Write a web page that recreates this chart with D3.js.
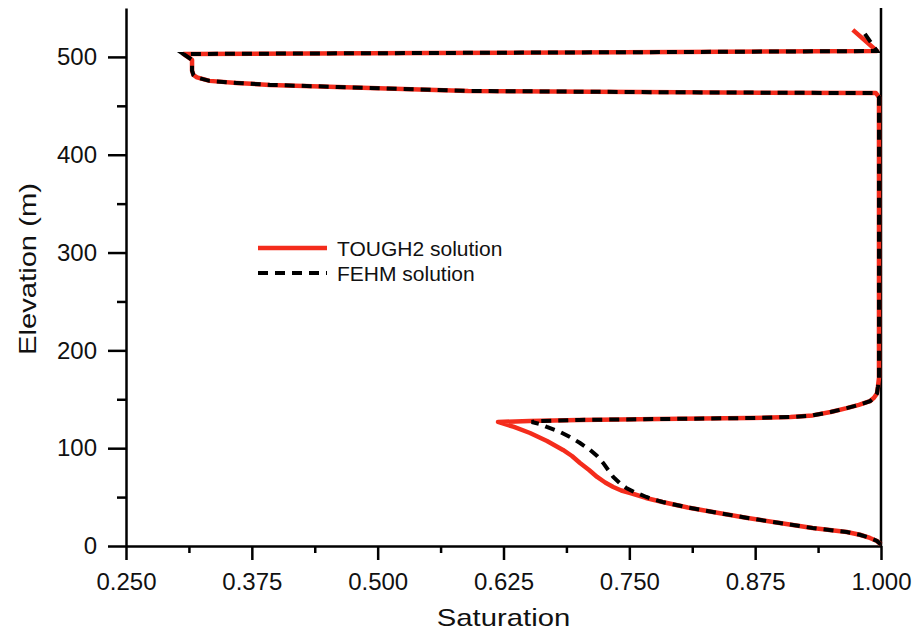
<!DOCTYPE html>
<html>
<head>
<meta charset="utf-8">
<script src="https://cdn.jsdelivr.net/npm/d3@7"></script>
<style>
  body { margin: 0; background: #fff; }
  text { font-family: "Liberation Sans", Arial, sans-serif; fill: #111; }
</style>
</head>
<body>
<div id="chart"></div>
<script>
// DATA (saturation, elevation in m)
// upper part (shared shape): top tip, perched zone near 500 m, unsaturated column
const topSat  = [0.996, 0.80, 0.55, 0.307, 0.3156, 0.3156, 0.317, 0.3205, 0.333, 0.360, 0.393, 0.460, 0.590, 0.800, 0.995, 0.998, 0.998, 0.998, 0.997, 0.996, 0.993, 0.989, 0.978, 0.966, 0.950, 0.932, 0.910, 0.870, 0.800];
const topElev = [506.0, 505.0, 504.0, 503.0, 497.0, 486.0, 481.5, 479.0, 475.5, 473.4, 471.4, 469.3, 465.2, 463.8, 463.0, 459.0, 300.0, 172.0, 163.0, 156.0, 151.5, 148.0, 144.3, 141.0, 137.0, 133.5, 131.8, 130.8, 130.0];

// TOUGH2
const toughHeadSat  = [0.972];
const toughHeadElev = [527.6];
const toughLowSat  = [0.700, 0.651, 0.6195, 0.6354, 0.6513, 0.6682, 0.6841, 0.693, 0.701, 0.710, 0.718, 0.726, 0.734, 0.742, 0.751, 0.7665, 0.783, 0.808, 0.833, 0.866, 0.8995, 0.932, 0.966, 0.979, 0.989, 0.996, 1.000];
const toughLowElev = [128.9, 127.8, 126.8, 121.7, 115.5, 107.4, 98.2, 92.0, 84.9, 77.7, 70.6, 64.9, 60.3, 56.7, 54.2, 49.1, 45.0, 39.4, 34.8, 28.9, 23.5, 18.4, 14.3, 11.5, 8.2, 5.1, 1.5];

// FEHM
const fehmHeadSat  = [0.984];
const fehmHeadElev = [523.5];
const fehmLowSat  = [0.700, 0.656, 0.653, 0.661, 0.668, 0.680, 0.691, 0.701, 0.711, 0.718, 0.724, 0.729, 0.734, 0.7405, 0.747, 0.757, 0.767, 0.775, 0.783, 0.808, 0.833, 0.866, 0.8995, 0.932, 0.966, 0.979, 0.989, 0.996, 1.000];
const fehmLowElev = [128.9, 127.5, 126.8, 124.7, 121.7, 117.1, 111.5, 105.3, 98.2, 92.0, 84.9, 77.7, 70.6, 64.4, 59.3, 54.2, 50.1, 47.3, 45.0, 39.4, 34.8, 28.9, 23.5, 18.4, 14.3, 11.5, 8.2, 5.1, 1.5];

const xTicks = [0.25, 0.375, 0.5, 0.625, 0.75, 0.875, 1.0];
const xMinor = [0.3125, 0.4375, 0.5625, 0.6875, 0.8125, 0.9375];
const yTicks = [0, 100, 200, 300, 400, 500];
const yMinor = [50, 150, 250, 350, 450];

const legendNames = ['TOUGH2 solution', 'FEHM solution'];

// DIMENSIONS
const width = 920, height = 635;
const margin = {left: 126, right: 39, top: 8, bottom: 89};
const red = '#f42c1c';

const svg = d3.select('#chart').append('svg')
    .attr('width', width)
    .attr('height', height);

const x = d3.scaleLinear().domain([0.25, 1.0]).range([margin.left, width - margin.right]);
const y = d3.scaleLinear().domain([0, 550]).range([height - margin.bottom, margin.top]);

// AXES
svg.append('g')
    .attr('transform', `translate(0,${y(0)})`)
    .call(d3.axisBottom(x).tickValues(xTicks).tickFormat(d3.format('.3f')).tickSize(14).tickSizeOuter(0).tickPadding(13));

const xMinorG = svg.append('g')
    .attr('transform', `translate(0,${y(0)})`)
    .call(d3.axisBottom(x).tickValues(xMinor).tickFormat('').tickSize(7).tickSizeOuter(0));
xMinorG.select('.domain').remove();

svg.append('g')
    .attr('transform', `translate(${x(0.25)},0)`)
    .call(d3.axisLeft(y).tickValues(yTicks).tickSize(18).tickSizeOuter(0).tickPadding(11));

const yMinorG = svg.append('g')
    .attr('transform', `translate(${x(0.25)},0)`)
    .call(d3.axisLeft(y).tickValues(yMinor).tickFormat('').tickSize(9).tickSizeOuter(0));
yMinorG.select('.domain').remove();

svg.selectAll('.domain, .tick line')
    .attr('stroke', '#000')
    .attr('stroke-width', 2.5);

svg.selectAll('.tick text')
    .style('font-size', '24px')
    .style('font-family', '"Liberation Sans", Arial, sans-serif')
    .attr('fill', '#111');

// right frame line
svg.append('line')
    .attr('x1', x(1.0)).attr('x2', x(1.0))
    .attr('y1', y(550)).attr('y2', y(0))
    .attr('stroke', '#000')
    .attr('stroke-width', 2.5);

// AXIS TITLES (glyphs in the figure are a bit stretched sideways)
svg.append('text')
    .attr('transform', `translate(${(x(0.25) + x(1.0)) / 2},626)scale(1.22,1)`)
    .attr('text-anchor', 'middle')
    .style('font-size', '24px')
    .text('Saturation');

svg.append('text')
    .attr('transform', `translate(36,269)rotate(-90)scale(1.27,1)`)
    .attr('text-anchor', 'middle')
    .style('font-size', '23px')
    .text('Elevation (m)');

// LINES
const line = d3.line()
    .x(d => x(d[0]))
    .y(d => y(d[1]));

const zip = (s, e) => s.map((v, i) => [v, e[i]]);
const topData = zip(topSat, topElev);
const toughData = zip(toughHeadSat, toughHeadElev).concat(topData, zip(toughLowSat, toughLowElev));
const fehmData = zip(fehmHeadSat, fehmHeadElev).concat(topData, zip(fehmLowSat, fehmLowElev));

svg.append('path')
    .datum(toughData)
    .attr('d', line)
    .attr('fill', 'none')
    .attr('stroke', red)
    .attr('stroke-width', 4.5)
    .attr('stroke-linejoin', 'round');

svg.append('path')
    .datum(fehmData)
    .attr('d', line)
    .attr('fill', 'none')
    .attr('stroke', '#000')
    .attr('stroke-width', 4)
    .attr('stroke-dasharray', '10,7');

// LEGEND
const legend = svg.append('g').attr('transform', 'translate(258,248)');

legend.append('line')
    .attr('x1', 0).attr('x2', 69)
    .attr('y1', 0).attr('y2', 0)
    .attr('stroke', red)
    .attr('stroke-width', 4.5);

legend.append('line')
    .attr('x1', 0).attr('x2', 69)
    .attr('y1', 25).attr('y2', 25)
    .attr('stroke', '#000')
    .attr('stroke-width', 4)
    .attr('stroke-dasharray', '10,7');

legend.selectAll('text.leg')
    .data(legendNames)
    .enter()
    .append('text')
    .attr('class', 'leg')
    .attr('x', 79)
    .attr('y', (d, i) => i * 25 + 8)
    .style('font-size', '21px')
    .text(d => d);
</script>
</body>
</html>
